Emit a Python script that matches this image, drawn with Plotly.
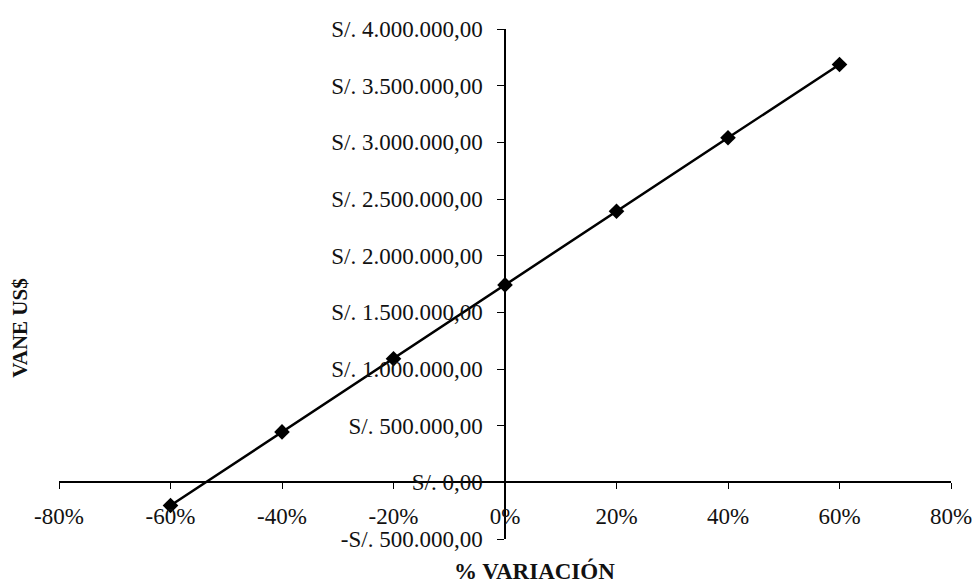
import plotly.graph_objects as go

# Sensitivity of NPV (VANE) to percentage variation
variacion = [-60, -40, -20, 0, 20, 40, 60]
vane = [-205000, 445000, 1090000, 1742000, 2392000, 3040000, 3687000]

x_tick_vals = [-80, -60, -40, -20, 0, 20, 40, 60, 80]
x_tick_text = ["-80%", "-60%", "-40%", "-20%", "0%", "20%", "40%", "60%", "80%"]

y_tick_vals = [-500000, 0, 500000, 1000000, 1500000, 2000000, 2500000,
               3000000, 3500000, 4000000]
y_tick_text = ["-S/. 500.000,00", "S/. 0,00", "S/. 500.000,00", "S/. 1.000.000,00",
               "S/. 1.500.000,00", "S/. 2.000.000,00", "S/. 2.500.000,00",
               "S/. 3.000.000,00", "S/. 3.500.000,00", "S/. 4.000.000,00"]

x_range = [-80, 80]
y_range = [-500000, 4000000]

FONT = "Liberation Serif"
INK = "#111"

fig = go.Figure()
fig.add_trace(go.Scatter(
    x=variacion, y=vane, mode="lines+markers",
    line=dict(color="black", width=2.5),
    marker=dict(symbol="diamond", size=12, color="black"),
    showlegend=False,
))

# axes cross at the origin
x_pos = (0 - y_range[0]) / (y_range[1] - y_range[0])
y_pos = (0 - x_range[0]) / (x_range[1] - x_range[0])

fig.update_layout(
    width=977, height=585,
    margin=dict(l=59, r=26, t=29, b=46, autoexpand=False),
    paper_bgcolor="white", plot_bgcolor="white",
    font=dict(family=FONT, size=23, color=INK),
    xaxis=dict(
        range=x_range, tickvals=x_tick_vals, ticktext=x_tick_text,
        showgrid=False, zeroline=False, showline=True, linecolor="black",
        linewidth=1.5, ticks="outside", ticklen=6, tickcolor="black",
        anchor="free", position=x_pos, ticklabelstandoff=7,
        domain=[0, 1], automargin=False,
    ),
    yaxis=dict(
        range=y_range, tickvals=y_tick_vals, ticktext=y_tick_text,
        showgrid=False, zeroline=False, showline=True, linecolor="black",
        linewidth=1.5, ticks="outside", ticklen=7, tickcolor="black",
        anchor="free", position=y_pos, ticklabelstandoff=10,
        domain=[0, 1], automargin=False,
    ),
    annotations=[
        dict(text="<b>% VARIACIÓN</b>", xref="paper", yref="paper",
             x=(534 - 59) / 892, y=(539.3 - 571) / 510,
             xanchor="center", yanchor="middle",
             showarrow=False, font=dict(family=FONT, size=23, color=INK)),
        dict(text="<b>VANE US$</b>", xref="paper", yref="paper",
             x=(20 - 59) / 892, y=(539.3 - 329) / 510,
             xanchor="center", yanchor="middle",
             textangle=-90, showarrow=False,
             font=dict(family=FONT, size=21, color=INK)),
    ],
)

fig.write_html("out.html")
